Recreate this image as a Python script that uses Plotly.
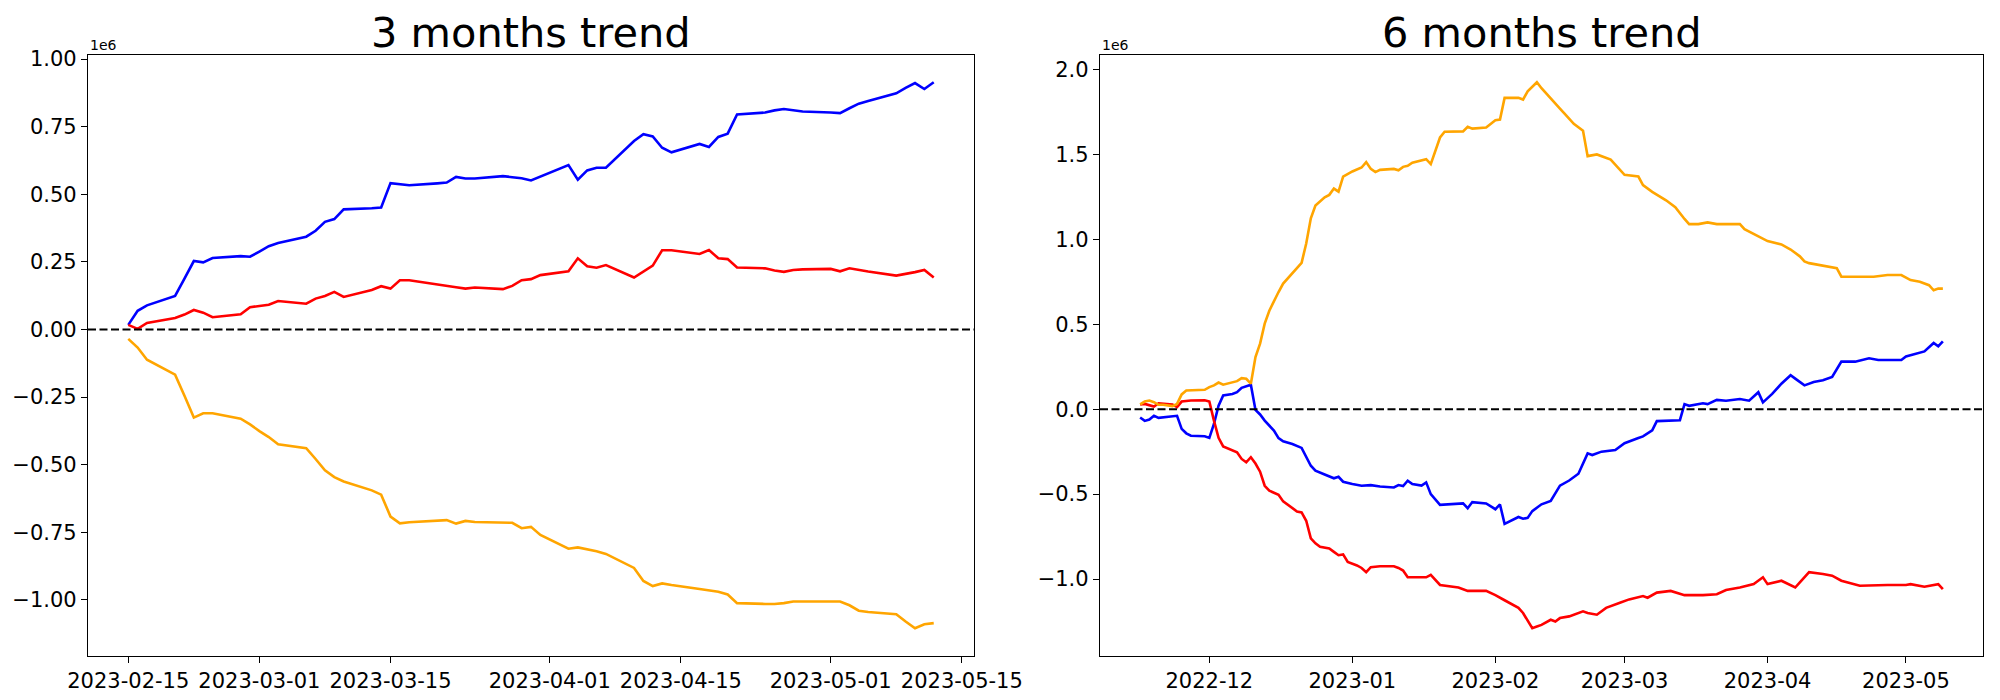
import pandas as pd
import plotly.graph_objects as go

# ---------------- 3 months data (values in units of 1e6) ----------------
dates_3m = [
    "2023-02-15", "2023-02-16", "2023-02-17", "2023-02-20", "2023-02-21", "2023-02-22", "2023-02-23",
    "2023-02-24", "2023-02-27", "2023-02-28", "2023-03-01", "2023-03-02", "2023-03-03", "2023-03-06",
    "2023-03-07", "2023-03-08", "2023-03-09", "2023-03-10", "2023-03-13", "2023-03-14", "2023-03-15",
    "2023-03-16", "2023-03-17", "2023-03-20", "2023-03-21", "2023-03-22", "2023-03-23", "2023-03-24",
    "2023-03-27", "2023-03-28", "2023-03-29", "2023-03-30", "2023-03-31", "2023-04-03", "2023-04-04",
    "2023-04-05", "2023-04-06", "2023-04-07", "2023-04-10", "2023-04-11", "2023-04-12", "2023-04-13",
    "2023-04-14", "2023-04-17", "2023-04-18", "2023-04-19", "2023-04-20", "2023-04-21", "2023-04-24",
    "2023-04-25", "2023-04-26", "2023-04-27", "2023-04-28", "2023-05-01", "2023-05-02", "2023-05-03",
    "2023-05-04", "2023-05-05", "2023-05-08", "2023-05-09", "2023-05-10", "2023-05-11", "2023-05-12",
]
blue_3m = [
    0.017, 0.069, 0.089, 0.124, 0.188, 0.253, 0.248, 0.264, 0.271, 0.269, 0.288, 0.308, 0.320, 0.343,
    0.365, 0.398, 0.408, 0.444, 0.448, 0.451, 0.541, 0.537, 0.533, 0.540, 0.543, 0.564, 0.558, 0.558,
    0.567, 0.563, 0.559, 0.551, 0.566, 0.608, 0.554, 0.588, 0.598, 0.598, 0.697, 0.722, 0.714, 0.672,
    0.655, 0.686, 0.675, 0.712, 0.724, 0.795, 0.802, 0.810, 0.815, 0.810, 0.806, 0.802, 0.800, 0.818,
    0.835, 0.845, 0.873, 0.893, 0.911, 0.889, 0.914,
]
red_3m = [
    0.017, 0.002, 0.024, 0.042, 0.055, 0.072, 0.062, 0.045, 0.056, 0.082, 0.087, 0.091, 0.105, 0.095,
    0.114, 0.124, 0.139, 0.120, 0.146, 0.160, 0.151, 0.182, 0.182, 0.168, 0.162, 0.156, 0.151, 0.155,
    0.149, 0.161, 0.182, 0.186, 0.201, 0.215, 0.263, 0.234, 0.228, 0.238, 0.192, 0.213, 0.236, 0.293,
    0.293, 0.279, 0.294, 0.263, 0.260, 0.229, 0.226, 0.218, 0.213, 0.220, 0.222, 0.224, 0.215, 0.226,
    0.220, 0.214, 0.199, 0.205, 0.212, 0.220, 0.192,
]
orange_3m = [
    -0.035, -0.067, -0.112, -0.167, -0.245, -0.326, -0.310, -0.310, -0.330, -0.351, -0.376, -0.398,
    -0.425, -0.439, -0.479, -0.521, -0.546, -0.562, -0.595, -0.611, -0.692, -0.717, -0.713, -0.708,
    -0.705, -0.718, -0.708, -0.712, -0.713, -0.715, -0.735, -0.730, -0.760, -0.811, -0.806, -0.812,
    -0.820, -0.830, -0.882, -0.930, -0.949, -0.939, -0.945, -0.960, -0.965, -0.970, -0.980, -1.012,
    -1.015, -1.015, -1.012, -1.006, -1.006, -1.006, -1.006, -1.020, -1.040, -1.045, -1.053, -1.080,
    -1.105, -1.090, -1.086,
]

# ---------------- 6 months data (values in units of 1e6) ----------------
blue_6m_dates = [
    "2022-11-16", "2022-11-17", "2022-11-18", "2022-11-19", "2022-11-20", "2022-11-23", "2022-11-24",
    "2022-11-25", "2022-11-26", "2022-11-27", "2022-11-30", "2022-12-01", "2022-12-02", "2022-12-03",
    "2022-12-04", "2022-12-06", "2022-12-07", "2022-12-08", "2022-12-09", "2022-12-10", "2022-12-11",
    "2022-12-12", "2022-12-13", "2022-12-14", "2022-12-15", "2022-12-16", "2022-12-17", "2022-12-19",
    "2022-12-21", "2022-12-23", "2022-12-24", "2022-12-26", "2022-12-27", "2022-12-28", "2022-12-29",
    "2022-12-30", "2023-01-01", "2023-01-03", "2023-01-05", "2023-01-07", "2023-01-10", "2023-01-11",
    "2023-01-12", "2023-01-13", "2023-01-14", "2023-01-16", "2023-01-17", "2023-01-18", "2023-01-20",
    "2023-01-25", "2023-01-26", "2023-01-27", "2023-01-30", "2023-02-01", "2023-02-02", "2023-02-03",
    "2023-02-06", "2023-02-07", "2023-02-08", "2023-02-09", "2023-02-11", "2023-02-13", "2023-02-15",
    "2023-02-17", "2023-02-19", "2023-02-21", "2023-02-22", "2023-02-24", "2023-02-27", "2023-03-01",
    "2023-03-04", "2023-03-05", "2023-03-07", "2023-03-08", "2023-03-13", "2023-03-14", "2023-03-15",
    "2023-03-18", "2023-03-19", "2023-03-21", "2023-03-23", "2023-03-26", "2023-03-28", "2023-03-30",
    "2023-03-31", "2023-04-02", "2023-04-04", "2023-04-06", "2023-04-07", "2023-04-09", "2023-04-11",
    "2023-04-13", "2023-04-15", "2023-04-17", "2023-04-20", "2023-04-23", "2023-04-25", "2023-04-30",
    "2023-05-01", "2023-05-05", "2023-05-07", "2023-05-08", "2023-05-09",
]
blue_6m = [
    -0.049, -0.069, -0.061, -0.039, -0.051, -0.039, -0.039, -0.116, -0.142, -0.156, -0.159, -0.169,
    -0.087, 0.020, 0.081, 0.090, 0.100, 0.126, 0.135, 0.144, -0.004, -0.031, -0.067, -0.100, -0.126,
    -0.170, -0.189, -0.205, -0.228, -0.333, -0.362, -0.385, -0.395, -0.407, -0.398, -0.427, -0.440,
    -0.451, -0.447, -0.455, -0.461, -0.447, -0.453, -0.421, -0.441, -0.450, -0.431, -0.500, -0.563,
    -0.555, -0.583, -0.547, -0.555, -0.589, -0.561, -0.675, -0.635, -0.645, -0.640, -0.600, -0.560,
    -0.540, -0.450, -0.420, -0.380, -0.260, -0.270, -0.250, -0.240, -0.200, -0.170, -0.160, -0.125,
    -0.070, -0.065, 0.030, 0.020, 0.035, 0.030, 0.055, 0.050, 0.060, 0.050, 0.100, 0.040, 0.090,
    0.150, 0.200, 0.180, 0.140, 0.160, 0.170, 0.190, 0.280, 0.280, 0.300, 0.290, 0.290, 0.310, 0.340,
    0.390, 0.370, 0.400,
]

red_6m_dates = [
    "2022-11-16", "2022-11-17", "2022-11-19", "2022-11-20", "2022-11-23", "2022-11-24", "2022-11-25",
    "2022-11-27", "2022-11-30", "2022-12-01", "2022-12-02", "2022-12-03", "2022-12-04", "2022-12-06",
    "2022-12-07", "2022-12-08", "2022-12-09", "2022-12-10", "2022-12-11", "2022-12-12", "2022-12-13",
    "2022-12-14", "2022-12-15", "2022-12-16", "2022-12-17", "2022-12-20", "2022-12-21", "2022-12-22",
    "2022-12-23", "2022-12-24", "2022-12-25", "2022-12-27", "2022-12-28", "2022-12-29", "2022-12-30",
    "2022-12-31", "2023-01-02", "2023-01-03", "2023-01-04", "2023-01-05", "2023-01-07", "2023-01-10",
    "2023-01-11", "2023-01-12", "2023-01-13", "2023-01-17", "2023-01-18", "2023-01-20", "2023-01-24",
    "2023-01-26", "2023-01-30", "2023-02-01", "2023-02-03", "2023-02-06", "2023-02-07", "2023-02-09",
    "2023-02-10", "2023-02-11", "2023-02-13", "2023-02-14", "2023-02-15", "2023-02-17", "2023-02-20",
    "2023-02-21", "2023-02-23", "2023-02-25", "2023-02-28", "2023-03-02", "2023-03-05", "2023-03-06",
    "2023-03-08", "2023-03-11", "2023-03-14", "2023-03-18", "2023-03-21", "2023-03-23", "2023-03-26",
    "2023-03-29", "2023-03-31", "2023-04-01", "2023-04-04", "2023-04-07", "2023-04-08", "2023-04-10",
    "2023-04-13", "2023-04-15", "2023-04-17", "2023-04-21", "2023-04-27", "2023-05-01", "2023-05-02",
    "2023-05-05", "2023-05-08", "2023-05-09",
]
red_6m = [
    0.028, 0.031, 0.016, 0.035, 0.028, 0.012, 0.045, 0.051, 0.053, 0.045, -0.067, -0.169, -0.219,
    -0.240, -0.254, -0.293, -0.313, -0.283, -0.320, -0.368, -0.451, -0.480, -0.490, -0.504, -0.543,
    -0.602, -0.608, -0.657, -0.760, -0.790, -0.810, -0.820, -0.840, -0.860, -0.855, -0.900, -0.920,
    -0.935, -0.960, -0.930, -0.925, -0.925, -0.935, -0.950, -0.990, -0.990, -0.975, -1.035, -1.050,
    -1.070, -1.070, -1.095, -1.125, -1.170, -1.200, -1.290, -1.280, -1.270, -1.240, -1.250, -1.230,
    -1.220, -1.190, -1.200, -1.210, -1.170, -1.140, -1.120, -1.100, -1.110, -1.080, -1.070, -1.095,
    -1.095, -1.090, -1.065, -1.050, -1.030, -0.990, -1.030, -1.010, -1.050, -1.020, -0.960, -0.970,
    -0.980, -1.010, -1.040, -1.035, -1.035, -1.030, -1.045, -1.030, -1.060,
]

orange_6m_dates = [
    "2022-11-16", "2022-11-17", "2022-11-18", "2022-11-19", "2022-11-20", "2022-11-21", "2022-11-23",
    "2022-11-24", "2022-11-25", "2022-11-26", "2022-11-30", "2022-12-01", "2022-12-02", "2022-12-03",
    "2022-12-04", "2022-12-06", "2022-12-07", "2022-12-08", "2022-12-09", "2022-12-10", "2022-12-11",
    "2022-12-12", "2022-12-13", "2022-12-14", "2022-12-15", "2022-12-16", "2022-12-17", "2022-12-19",
    "2022-12-20", "2022-12-21", "2022-12-22", "2022-12-23", "2022-12-24", "2022-12-26", "2022-12-27",
    "2022-12-28", "2022-12-29", "2022-12-30", "2023-01-01", "2023-01-03", "2023-01-04", "2023-01-05",
    "2023-01-06", "2023-01-07", "2023-01-10", "2023-01-11", "2023-01-12", "2023-01-13", "2023-01-14",
    "2023-01-16", "2023-01-17", "2023-01-18", "2023-01-19", "2023-01-20", "2023-01-21", "2023-01-25",
    "2023-01-26", "2023-01-27", "2023-01-30", "2023-02-01", "2023-02-02", "2023-02-03", "2023-02-06",
    "2023-02-07", "2023-02-08", "2023-02-10", "2023-02-11", "2023-02-13", "2023-02-14", "2023-02-15",
    "2023-02-16", "2023-02-18", "2023-02-20", "2023-02-21", "2023-02-23", "2023-02-26", "2023-03-01",
    "2023-03-04", "2023-03-05", "2023-03-07", "2023-03-10", "2023-03-12", "2023-03-14", "2023-03-15",
    "2023-03-17", "2023-03-19", "2023-03-21", "2023-03-26", "2023-03-27", "2023-03-30", "2023-04-01",
    "2023-04-04", "2023-04-06", "2023-04-08", "2023-04-09", "2023-04-10", "2023-04-12", "2023-04-14",
    "2023-04-16", "2023-04-17", "2023-04-20", "2023-04-24", "2023-04-27", "2023-04-30", "2023-05-02",
    "2023-05-04", "2023-05-06", "2023-05-07", "2023-05-08", "2023-05-09",
]
orange_6m = [
    0.028, 0.045, 0.051, 0.041, 0.026, 0.026, 0.018, 0.031, 0.087, 0.110, 0.114, 0.130, 0.140, 0.157,
    0.144, 0.160, 0.165, 0.183, 0.179, 0.150, 0.307, 0.386, 0.504, 0.580, 0.640, 0.690, 0.740, 0.799,
    0.830, 0.862, 0.976, 1.124, 1.199, 1.248, 1.262, 1.299, 1.281, 1.370, 1.400, 1.423, 1.455, 1.415,
    1.396, 1.409, 1.415, 1.407, 1.427, 1.433, 1.451, 1.465, 1.472, 1.443, 1.520, 1.600, 1.634, 1.636,
    1.663, 1.652, 1.659, 1.701, 1.705, 1.833, 1.833, 1.823, 1.872, 1.925, 1.890, 1.833, 1.800, 1.770,
    1.740, 1.680, 1.640, 1.490, 1.500, 1.470, 1.380, 1.370, 1.320, 1.280, 1.230, 1.190, 1.120, 1.090,
    1.090, 1.100, 1.090, 1.090, 1.060, 1.020, 0.990, 0.970, 0.940, 0.900, 0.870, 0.860, 0.850, 0.840,
    0.830, 0.780, 0.780, 0.780, 0.790, 0.790, 0.760, 0.750, 0.730, 0.700, 0.710, 0.710,
]

ticks_3m = ["2023-02-15", "2023-03-01", "2023-03-15", "2023-04-01", "2023-04-15", "2023-05-01", "2023-05-15"]
ticks_6m = ["2022-12-01", "2023-01-01", "2023-02-01", "2023-03-01", "2023-04-01", "2023-05-01"]

FONT = "DejaVu Sans"
COLORS = {"blue": "#0000ff", "red": "#ff0000", "orange": "#ffa500"}


def pad_num(*series):
    vals = [v for s in series for v in s] + [0.0]
    lo, hi = min(vals), max(vals)
    d = (hi - lo) * 0.05
    return [lo - d, hi + d]


def pad_dates(*series):
    ts = pd.to_datetime([d for s in series for d in s])
    lo, hi = ts.min(), ts.max()
    d = (hi - lo) * 0.05
    return [(lo - d).isoformat(), (hi + d).isoformat()]


fig = go.Figure()

LW = 2.6
for name, xs, ys in [("blue", dates_3m, blue_3m), ("red", dates_3m, red_3m), ("orange", dates_3m, orange_3m)]:
    fig.add_trace(go.Scatter(x=xs, y=ys, mode="lines", line=dict(color=COLORS[name], width=LW),
                             xaxis="x", yaxis="y", showlegend=False))
for name, xs, ys in [("blue", blue_6m_dates, blue_6m), ("red", red_6m_dates, red_6m),
                     ("orange", orange_6m_dates, orange_6m)]:
    fig.add_trace(go.Scatter(x=xs, y=ys, mode="lines", line=dict(color=COLORS[name], width=LW),
                             xaxis="x2", yaxis="y2", showlegend=False))

ax_common = dict(showline=True, mirror=True, linecolor="black", linewidth=1.3, ticks="outside",
                 ticklen=6, tickwidth=1.3, tickcolor="black", showgrid=False, zeroline=False,
                 automargin=False,
                 tickfont=dict(family=FONT, size=21, color="black"))

# page body adds an 8px offset; domains compensate for it
LX = [0.040, 0.483]
RX = [0.546, 0.9875]
YD = [0.0749, 0.9329]

fig.update_layout(
    width=2000, height=700,
    margin=dict(l=0, r=0, t=0, b=0, autoexpand=False),
    paper_bgcolor="white", plot_bgcolor="white",
    font=dict(family=FONT, color="black"),
    xaxis=dict(domain=LX, anchor="y", type="date", range=pad_dates(dates_3m),
               tickvals=ticks_3m, tickformat="%Y-%m-%d", **ax_common),
    yaxis=dict(domain=YD, anchor="x", range=pad_num(blue_3m, red_3m, orange_3m),
               tickmode="linear", tick0=0, dtick=0.25, tickformat=".2f", **ax_common),
    xaxis2=dict(domain=RX, anchor="y2", type="date",
                range=pad_dates(blue_6m_dates, red_6m_dates, orange_6m_dates),
                tickvals=ticks_6m, tickformat="%Y-%m", **ax_common),
    yaxis2=dict(domain=YD, anchor="x2", range=pad_num(blue_6m, red_6m, orange_6m),
                tickmode="linear", tick0=0, dtick=0.5, tickformat=".1f", **ax_common),
)

for xd, title in [(LX, "3 months trend"), (RX, "6 months trend")]:
    fig.add_annotation(text=title, xref="paper", yref="paper", x=(xd[0] + xd[1]) / 2, y=YD[1],
                       xanchor="center", yanchor="bottom", yshift=-3, borderpad=0, showarrow=False,
                       font=dict(family=FONT, size=41.5, color="black"))
    fig.add_annotation(text="1e6", xref="paper", yref="paper", x=xd[0], y=YD[1],
                       xanchor="left", yanchor="bottom", yshift=0, showarrow=False,
                       font=dict(family=FONT, size=14, color="black"))

fig.add_shape(type="line", xref="x domain", yref="y", x0=0, x1=1, y0=0, y1=0,
              line=dict(color="black", width=2, dash="8px,3.5px"), layer="above")
fig.add_shape(type="line", xref="x2 domain", yref="y2", x0=0, x1=1, y0=0, y1=0,
              line=dict(color="black", width=2, dash="8px,3.5px"), layer="above")

fig.write_html("out.html")
